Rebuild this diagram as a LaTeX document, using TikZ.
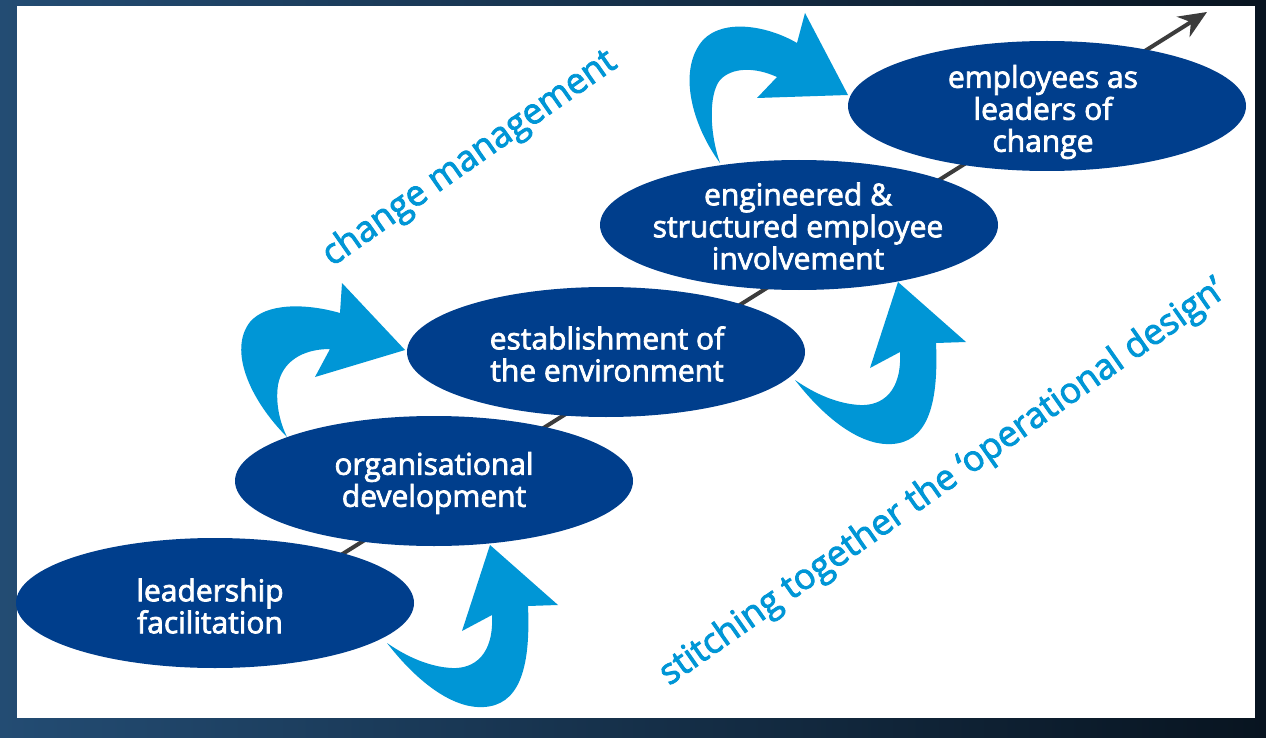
\documentclass[tikz,border=0pt]{standalone}
\usepackage{fontspec}
\setmainfont{Open Sans}
\newfontfamily\medsans{Open Sans}[FakeBold=2.5]
\usetikzlibrary{arrows.meta,shapes.geometric}
\definecolor{navy}{RGB}{0,62,140}
\definecolor{sky}{RGB}{0,150,214}
\definecolor{bgl}{RGB}{35,76,115}
\definecolor{bgr}{RGB}{8,20,32}
\definecolor{axisgray}{RGB}{60,60,60}
\begin{document}
\begin{tikzpicture}[x=1pt,y=-1pt,
  ell/.style={ellipse, fill=navy, minimum width=398pt, minimum height=130pt, inner sep=0pt},
  lbl/.style={text=white, align=center, inner sep=0pt, font=\medsans\fontsize{30}{32}\selectfont},
  side/.style={text=sky, inner sep=0pt, font=\medsans\fontsize{35.5}{40}\selectfont, rotate=35, anchor=center},
  curl/.style={fill=sky}]
\useasboundingbox (0,0) rectangle (1266,738);
\shade[left color=bgl, right color=bgr] (0,0) rectangle (1266,738);
\fill[white] (17,6) rectangle (1255,718);
% axis
\coordinate (s) at (167,664);
\coordinate (t) at (1207,12);
\draw[axisgray, line width=4pt, -{Stealth[length=28pt,width=24pt,inset=9pt]}] (s) -- (t);
% curled arrows
\fill[curl] (795,380) .. controls (830,425) and (865,446) .. (892,444) .. controls (925,442) and (939,410) .. (936,343) -- (966,342) -- (898,282) -- (870,368) -- (900,352) .. controls (902,392) and (882,406) .. (860,405) .. controls (838,404) and (815,394) .. cycle;
\begin{scope}[shift={(-408,263)}]
\fill[curl] (795,380) .. controls (830,425) and (865,446) .. (892,444) .. controls (925,442) and (939,410) .. (936,343) -- (966,342) -- (898,282) -- (870,368) -- (900,352) .. controls (902,392) and (882,406) .. (860,405) .. controls (838,404) and (815,394) .. cycle;
\end{scope}
\fill[curl] (287,437) .. controls (250,400) and (228,350) .. (250,322) .. controls (266,303) and (305,303) .. (340,313) -- (342,283) -- (405,350) -- (315,377) -- (330,349) .. controls (302,349) and (282,362) .. (278,385) .. controls (275,405) and (281,425) .. cycle;
\fill[curl] (720,163) .. controls (692,125) and (677,70) .. (703,40) .. controls (724,18) and (768,26) .. (797,43) -- (805,13) -- (848,95) -- (757,98) -- (777,77) .. controls (755,67) and (732,67) .. (720,80) .. controls (708,95) and (710,135) .. cycle;
% ellipses
\node[ell] (e1) at (215,603) {};
\node[ell] (e2) at (434,481) {};
\node[ell] (e3) at (606,352) {};
\node[ell] (e4) at (799,225) {};
\node[ell] (e5) at (1047,106) {};
\node[lbl] (l1) at (210,606) {leadership\\facilitation};
\node[lbl] (l2) at (434,483) {organisational\\development};
\node[lbl] (l3) at (607,354) {establishment of\\the environment};
\node[lbl] (l4) at (798,226) {engineered \&\\structured employee\\involvement};
\node[lbl] (l5) at (1043,112) {employees as\\leaders of\\change};
% side labels
\node[side] (cm) at (470,159) {change management};
\node[side] (sd) at (943,483) {stitching together the ‘operational design’};
\end{tikzpicture}
\end{document}
